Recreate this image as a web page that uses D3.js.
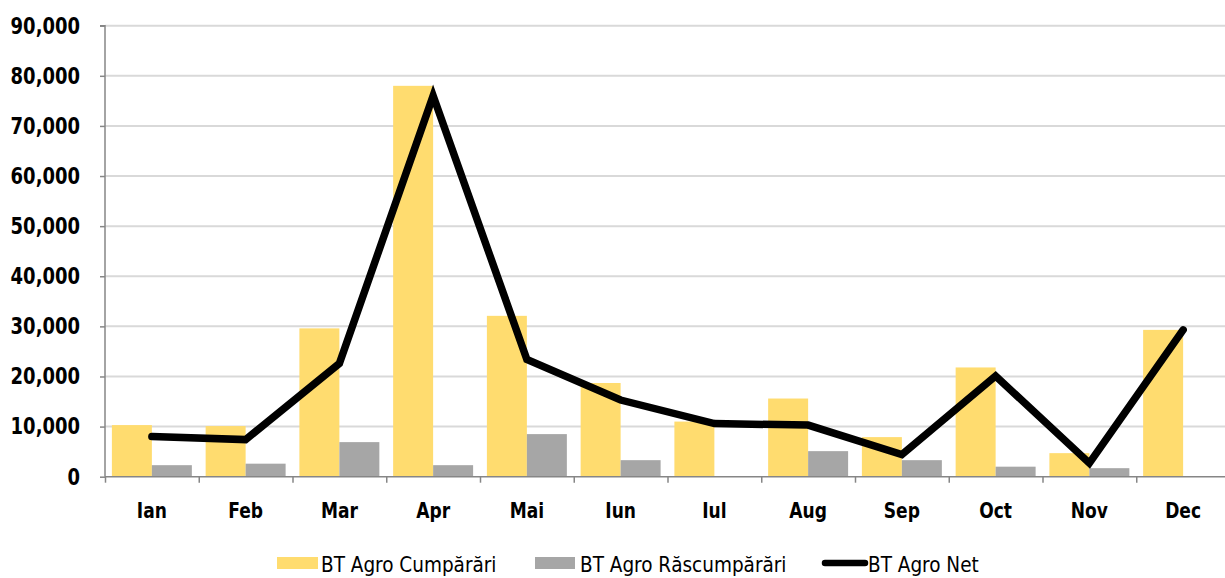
<!DOCTYPE html>
<html><head><meta charset="utf-8">
<script src="https://cdn.jsdelivr.net/npm/d3@7"></script>
<style>body{margin:0;background:#fff;}svg{display:block;}</style>
</head><body>
<svg id="c" width="1225" height="578"></svg>
<script>
const categories = ["Ian","Feb","Mar","Apr","Mai","Iun","Iul","Aug","Sep","Oct","Nov","Dec"];
const cumparari = [10300,10100,29600,78000,32100,18700,11000,15600,7900,21800,4700,29300];
const rascumparari = [2300,2600,6900,2300,8500,3300,0,5100,3300,2000,1700,0];
const net = [8000,7400,22600,76000,23400,15300,10600,10300,4400,20100,2700,29300];
const yTicks = [0,10000,20000,30000,40000,50000,60000,70000,80000,90000];
const seriesNames = ["BT Agro Cumpărări","BT Agro Răscumpărări","BT Agro Net"];
const colors = ["#FFDC6F","#A6A6A6","#000000"];

const svg = d3.select("#c");
const font = "'DejaVu Sans Condensed','DejaVu Sans',sans-serif";
const x0 = 105, x1 = 1230, yTop = 25.7, yBot = 476.7;
const x = d3.scaleBand().domain(categories).range([x0, x1]).paddingInner(0.147).paddingOuter(0.0735);
const y = d3.scaleLinear().domain([0, 90000]).range([yBot, yTop]);
const band = d3.scaleBand().domain([0,1]).range([0, x.bandwidth()]);

// grid
svg.append("g").selectAll("line").data(yTicks.filter(d=>d>0)).join("line")
  .attr("x1", x0).attr("x2", x1).attr("y1", d=>y(d)).attr("y2", d=>y(d))
  .attr("stroke", "#D9D9D9").attr("stroke-width", 2);

// bars
const g = svg.append("g");
g.selectAll(".b1").data(categories).join("rect")
  .attr("x", (d)=>x(d)+band(0)).attr("width", band.bandwidth())
  .attr("y", (d,i)=>y(cumparari[i])).attr("height", (d,i)=>yBot-y(cumparari[i]))
  .attr("fill", colors[0]);
g.selectAll(".b2").data(categories).join("rect")
  .attr("x", (d)=>x(d)+band(1)).attr("width", band.bandwidth())
  .attr("y", (d,i)=>y(rascumparari[i])).attr("height", (d,i)=>yBot-y(rascumparari[i]))
  .attr("fill", colors[1]);

// y axis
const yAxis = d3.axisLeft(y).tickValues(yTicks).tickSize(5).tickPadding(20)
  .tickFormat(d3.format(","));
const ya = svg.append("g").attr("transform", `translate(${x0},0)`).call(yAxis);
ya.select(".domain").attr("stroke","#868686").attr("stroke-width",1.5).attr("d", `M-5,${yTop}H0V${yBot}`);
ya.selectAll(".tick line").attr("stroke","#868686").attr("stroke-width",1.5);
ya.selectAll("text").attr("font-family", font).attr("font-weight","bold").attr("font-size","20px").attr("fill","#000")
  .attr("dy", null).attr("y", 6.5).attr("transform","scale(1,1.13)");

// x axis
const xAxis = d3.axisBottom(d3.scaleLinear().domain([0,12]).range([x0,x1])).tickValues(d3.range(0,13)).tickSize(6).tickFormat("");
const xa = svg.append("g").attr("transform", `translate(0,${yBot})`).call(xAxis);
xa.select(".domain").attr("stroke","#868686").attr("stroke-width",1.5).attr("d", `M${x0},0H${x1}`);
xa.selectAll(".tick line").attr("stroke","#868686").attr("stroke-width",1.5);
svg.append("g").selectAll("g").data(categories).join("g")
  .attr("transform", d=>`translate(${x(d)+x.bandwidth()/2},517.5) scale(1,1.15)`)
  .append("text").attr("text-anchor","middle").attr("font-family",font).attr("font-weight","bold").attr("font-size","19px")
  .text(d=>d);

// line
const line = d3.line().x((d,i)=>x(categories[i])+x.bandwidth()/2).y(d=>y(d));
svg.append("path").datum(net).attr("d", line).attr("fill","none")
  .attr("stroke","#000").attr("stroke-width",7.5).attr("stroke-linejoin","miter").attr("stroke-linecap","round");

// legend
const leg = svg.append("g").attr("font-family",font).attr("font-size","20.5px");
const legX = [277, 535, 825];
leg.append("rect").attr("x",legX[0]).attr("y",557).attr("width",41).attr("height",12).attr("fill",colors[0]);
leg.append("rect").attr("x",legX[1]).attr("y",557).attr("width",40).attr("height",12).attr("fill",colors[1]);
leg.append("line").attr("x1",legX[2]).attr("x2",legX[2]+40).attr("y1",563).attr("y2",563)
  .attr("stroke","#000").attr("stroke-width",6.5).attr("stroke-linecap","round");
const textX = [321, 580, 868];
seriesNames.forEach((n,i)=>{
  leg.append("text").attr("x", textX[i]).attr("y", 571.5).text(n);
});
</script>
</body></html>
